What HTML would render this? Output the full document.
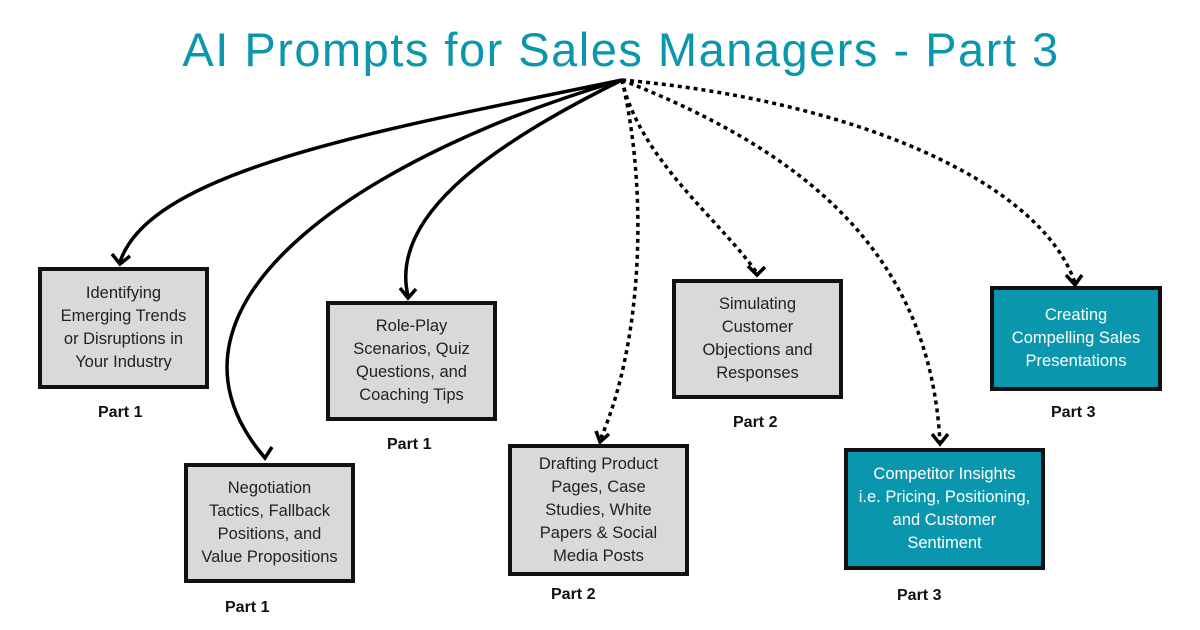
<!DOCTYPE html>
<html><head><style>
body{margin:0;width:1200px;height:630px;background:#fff;position:relative;overflow:hidden;font-family:"Liberation Sans",sans-serif}
.t{position:absolute;left:0;width:1242px;top:22px;text-align:center;color:#0a97ad;font-size:47px;letter-spacing:1.5px}
.b{position:absolute;box-sizing:border-box;border:4px solid #111;background:#d9d9d9;display:flex;align-items:center;justify-content:center;text-align:center;font-size:16.5px;line-height:23px;color:#222;white-space:nowrap}
.g{background:#0a97ad;color:#fff}
.p{position:absolute;font-weight:bold;font-size:16px;color:#111}
svg{position:absolute;left:0;top:0}
</style></head><body>
<div class="t">AI Prompts for Sales Managers - Part 3</div>
<svg width="1200" height="630" fill="none" stroke="#000" stroke-width="3.5">
<path d="M622 80 C380 130 150 170 120 262"/>
<path d="M622 80 C380 150 130 300 265 458"/>
<path d="M622 80 C480 150 390 220 408 296"/>
<g stroke-dasharray="4 4">
<path d="M622 80 C650 200 640 350 600 440"/>
<path d="M622 80 C640 160 720 220 757 273"/>
<path d="M622 80 C800 150 930 250 940 443"/>
<path d="M622 80 C850 100 1040 180 1075 283"/>
</g>
<g stroke-width="3.5" stroke-dasharray="none">
<path d="M112 254 L120 264 L130 256"/>
<path d="M257 448 L265 458 L272 447"/>
<path d="M400 288 L408 298 L416 289"/>
<path d="M596 431 L600 442 L609 434"/>
<path d="M748 266 L757 275 L765 267"/>
<path d="M932 434 L940 444 L948 434"/>
<path d="M1066 275 L1075 285 L1082 275"/>
</g>
</svg>
<div class="b" style="left:38px;top:267px;width:171px;height:122px">Identifying<br>Emerging Trends<br>or Disruptions in<br>Your Industry</div>
<div class="p" style="left:98px;top:404px">Part 1</div>
<div class="b" style="left:184px;top:463px;width:171px;height:120px">Negotiation<br>Tactics, Fallback<br>Positions, and<br>Value Propositions</div>
<div class="p" style="left:225px;top:599px">Part 1</div>
<div class="b" style="left:326px;top:301px;width:171px;height:120px">Role-Play<br>Scenarios, Quiz<br>Questions, and<br>Coaching Tips</div>
<div class="p" style="left:387px;top:436px">Part 1</div>
<div class="b" style="left:508px;top:444px;width:181px;height:132px">Drafting Product<br>Pages, Case<br>Studies, White<br>Papers &amp; Social<br>Media Posts</div>
<div class="p" style="left:551px;top:586px">Part 2</div>
<div class="b" style="left:672px;top:279px;width:171px;height:120px">Simulating<br>Customer<br>Objections and<br>Responses</div>
<div class="p" style="left:733px;top:414px">Part 2</div>
<div class="b g" style="left:844px;top:448px;width:201px;height:122px">Competitor Insights<br>i.e. Pricing, Positioning,<br>and Customer<br>Sentiment</div>
<div class="p" style="left:897px;top:587px">Part 3</div>
<div class="b g" style="left:990px;top:286px;width:172px;height:105px">Creating<br>Compelling Sales<br>Presentations</div>
<div class="p" style="left:1051px;top:404px">Part 3</div>
</body></html>
